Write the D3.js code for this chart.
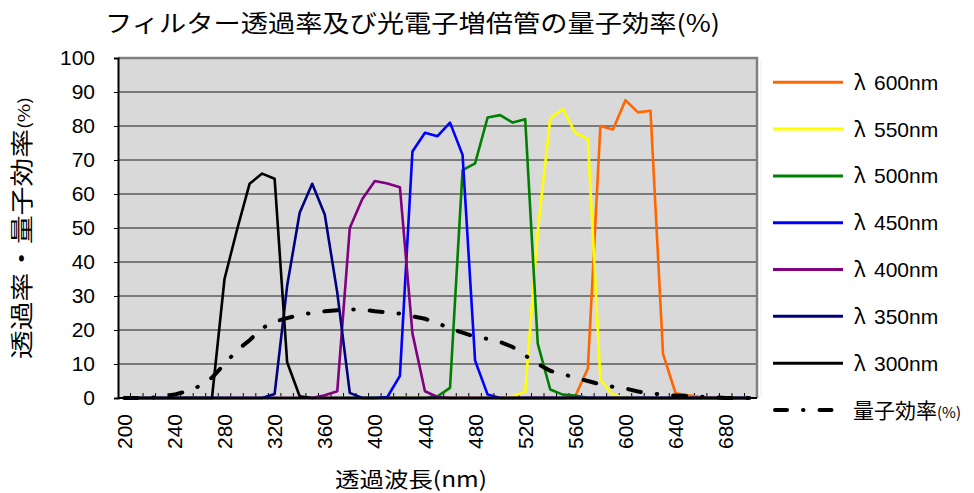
<!DOCTYPE html>
<html>
<head>
<meta charset="utf-8">
<script src="https://cdn.jsdelivr.net/npm/d3@7"></script>
<style>
  body { margin: 0; background: #fff; }
  svg text { font-family: "Liberation Sans", Arial, sans-serif; fill: #000; }
  .jp { font-family: "Noto Sans CJK JP", "Noto Sans", sans-serif; }
</style>
</head>
<body>
<svg id="chart" width="974" height="493"></svg>
<script>
// wavelength categories (nm)
const categories = [200, 210, 220, 230, 240, 250, 260, 270, 280, 290,
  300, 310, 320, 330, 340, 350, 360, 370, 380, 390,
  400, 410, 420, 430, 440, 450, 460, 470, 480, 490,
  500, 510, 520, 530, 540, 550, 560, 570, 580, 590,
  600, 610, 620, 630, 640, 650, 660, 670, 680, 690, 700];
const xLabels = [200, 240, 280, 320, 360, 400, 440, 480, 520, 560, 600, 640, 680];
const yTicks = [0, 10, 20, 30, 40, 50, 60, 70, 80, 90, 100];

// filter transmittance (%)
const lambda600 = [0, 0, 0, 0, 0, 0, 0, 0, 0, 0,
  0, 0, 0, 0, 0, 0, 0, 0, 0, 0,
  0, 0, 0, 0, 0, 0, 0, 0, 0, 0,
  0, 0, 0, 0, 0, 0, 0.6, 8.7, 80, 79,
  87.6, 84, 84.5, 13, 1.4, 0.8, 0.3, 0, 0, 0, 0];
const lambda550 = [0, 0, 0, 0, 0, 0, 0, 0, 0, 0,
  0, 0, 0, 0, 0, 0, 0, 0, 0, 0,
  0, 0, 0, 0, 0, 0, 0, 0, 0, 0,
  0, 0.5, 1.8, 49, 82.3, 85, 78, 76.2, 5.5, 0.8,
  0.3, 0, 0, 0, 0, 0, 0, 0, 0, 0, 0];
const lambda500 = [0, 0, 0, 0, 0, 0, 0, 0, 0, 0,
  0, 0, 0, 0, 0, 0, 0, 0, 0, 0,
  0, 0, 0, 0, 0, 0.5, 3, 67, 69, 82.5,
  83.2, 81, 82, 16, 2.5, 1, 0.7, 0, 0, 0,
  0, 0, 0, 0, 0, 0, 0, 0, 0, 0, 0];
const lambda450 = [0, 0, 0, 0, 0, 0, 0, 0, 0, 0,
  0, 0, 0, 0, 0, 0, 0, 0, 0, 0,
  0, 0.3, 6.5, 72.5, 78, 77, 81, 71.5, 11, 1,
  0, 0, 0, 0, 0, 0, 0, 0, 0, 0,
  0, 0, 0, 0, 0, 0, 0, 0, 0, 0, 0];
const lambda400 = [0, 0, 0, 0, 0, 0, 0, 0, 0, 0,
  0, 0, 0, 0, 0, 0, 0.8, 2, 50, 58.5,
  63.8, 63.1, 62, 19, 2, 0.3, 0, 0, 0, 0,
  0, 0, 0, 0, 0, 0, 0, 0, 0, 0,
  0, 0, 0, 0, 0, 0, 0, 0, 0, 0, 0];
const lambda350 = [0, 0, 0, 0, 0, 0, 0, 0, 0, 0,
  0, 0, 1.2, 33, 54.5, 63, 54, 31, 1.5, 0,
  0, 0, 0, 0, 0, 0, 0, 0, 0, 0,
  0, 0, 0, 0, 0, 0, 0, 0, 0, 0,
  0, 0, 0, 0, 0, 0, 0, 0, 0, 0, 0];
const lambda300 = [0, 0, 0, 0, 0, 0, 0, 0, 35, 49.5,
  63, 66, 64.5, 10.5, 0.5, 0, 0, 0, 0, 0,
  0, 0, 0, 0, 0, 0, 0, 0, 0, 0,
  0, 0, 0, 0, 0, 0, 0, 0, 0, 0,
  0, 0, 0, 0, 0, 0, 0, 0, 0, 0, 0];
// photomultiplier quantum efficiency (%)
const quantumEff = [0, 0, 0, 0.5, 1, 2, 3.5, 6, 10, 14,
  17, 20.5, 22.5, 23.5, 24.5, 25, 25.5, 25.8, 26, 26,
  25.5, 25.2, 24.8, 24, 23.3, 22, 20.5, 19.2, 18, 17.4,
  16.5, 15, 12.5, 10, 8, 7, 6, 5, 4, 3.3,
  2.8, 1.9, 1.4, 1, 0.7, 0.6, 0.4, 0.2, 0, 0, 0];

const seriesNames = ['600nm', '550nm', '500nm', '450nm', '400nm', '350nm', '300nm'];
const seriesValues = [lambda600, lambda550, lambda500, lambda450, lambda400, lambda350, lambda300];
const seriesColors = ['#ff6600', '#ffff00', '#008000', '#0000ff', '#800080', '#000080', '#000000'];

const svg = d3.select('#chart');
const plotL = 118, plotR = 757, plotT = 58, plotB = 398;

const x = d3.scaleBand().domain(categories).range([plotL, plotR]).paddingInner(0).paddingOuter(0);
const y = d3.scaleLinear().domain([0, 100]).range([plotB, plotT]);
const cx = c => x(c) + x.bandwidth() / 2;

// plot area
svg.append('rect')
  .attr('x', plotL).attr('y', plotT)
  .attr('width', plotR - plotL).attr('height', plotB - plotT)
  .attr('fill', '#d9d9d9');

// grid
svg.append('g')
  .selectAll('line')
  .data(yTicks.filter(v => v > 0 && v < 100))
  .enter().append('line')
  .attr('x1', plotL).attr('x2', plotR)
  .attr('y1', d => y(d)).attr('y2', d => y(d))
  .attr('stroke', '#5a5a5a').attr('stroke-width', 1.4);

// top / right frame
svg.append('path')
  .attr('d', `M${plotL},${plotT}H${plotR}V${plotB}`)
  .attr('fill', 'none').attr('stroke', '#808080').attr('stroke-width', 2.5);

// y axis
const yAxis = d3.axisLeft(y).tickValues(yTicks).tickSize(4).tickPadding(19);
const gy = svg.append('g').attr('transform', `translate(${plotL},0)`).call(yAxis);
gy.attr('font-family', null);
gy.select('.domain').attr('stroke', '#000').attr('stroke-width', 2);
gy.selectAll('.tick line').attr('stroke', '#000');
gy.selectAll('text').style('font-size', '21px');

// x axis
const xAxis = d3.axisBottom(x).tickSize(0)
  .tickFormat(d => xLabels.includes(d) ? d : '');
const gx = svg.append('g').attr('transform', `translate(0,${plotB})`).call(xAxis);
gx.attr('font-family', null);
gx.select('.domain').remove();
gx.selectAll('text')
  .attr('transform', 'rotate(-90)')
  .attr('x', -16).attr('y', 0).attr('dy', '0.36em')
  .style('text-anchor', 'end')
  .style('font-size', '21px');

// category boundary ticks (inside)
svg.append('g')
  .selectAll('line')
  .data(categories.slice(1))
  .enter().append('line')
  .attr('x1', d => x(d)).attr('x2', d => x(d))
  .attr('y1', plotB).attr('y2', plotB - 5)
  .attr('stroke', '#000').attr('stroke-width', 1);

const line = d3.line().x((d, i) => cx(categories[i])).y(d => y(d));

// series
seriesValues.forEach((vals, k) => {
  svg.append('path')
    .datum(vals)
    .attr('d', line)
    .attr('fill', 'none')
    .attr('stroke', seriesColors[k])
    .attr('stroke-width', 2.6)
    .attr('stroke-linejoin', 'round');
});

// x axis line
svg.append('line')
  .attr('x1', plotL).attr('x2', plotR)
  .attr('y1', plotB).attr('y2', plotB)
  .attr('stroke', '#000').attr('stroke-width', 2);

// quantum efficiency dash-dot
svg.append('path')
  .datum(quantumEff)
  .attr('d', line)
  .attr('fill', 'none')
  .attr('stroke', '#000')
  .attr('stroke-width', 4)
  .attr('stroke-linecap', 'round')
  .attr('stroke-dasharray', '13 16 0.5 16');

// legend
const legY = d3.scalePoint().domain(d3.range(8)).range([82.3, 410]);
svg.append('line')
  .attr('x1', 761).attr('x2', 761).attr('y1', 60).attr('y2', 397)
  .attr('stroke', '#ececec').attr('stroke-width', 1);

const leg = svg.append('g');
seriesNames.forEach((name, k) => {
  leg.append('line')
    .attr('x1', 773).attr('x2', 843)
    .attr('y1', legY(k)).attr('y2', legY(k))
    .attr('stroke', seriesColors[k]).attr('stroke-width', 3);
  const t = leg.append('text')
    .attr('x', 854).attr('y', legY(k)).attr('dy', '0.36em')
    .style('font-size', '21px');
  t.append('tspan').attr('class', 'jp').text('λ');
  t.append('tspan').attr('x', 874).text(name);
});
leg.append('line')
  .attr('x1', 775).attr('x2', 843)
  .attr('y1', legY(7)).attr('y2', legY(7))
  .attr('stroke', '#000').attr('stroke-width', 4)
  .attr('stroke-linecap', 'round')
  .attr('stroke-dasharray', '12 16 0.5 16');
const qeText = leg.append('text')
  .attr('class', 'jp')
  .attr('x', 853).attr('y', legY(7)).attr('dy', '0.36em')
  .style('font-size', '21px');
qeText.append('tspan').text('量子効率');
qeText.append('tspan').style('font-size', '15px').text('(%)');

// titles
svg.append('text')
  .attr('class', 'jp')
  .attr('x', 105).attr('y', 32)
  .attr('textLength', 615).attr('lengthAdjust', 'spacingAndGlyphs')
  .style('font-size', '24px')
  .text('フィルター透過率及び光電子増倍管の量子効率(%)');

const yTitle = svg.append('text')
  .attr('class', 'jp')
  .attr('transform', 'translate(30,228) rotate(-90)')
  .attr('text-anchor', 'middle')
  .attr('textLength', 262).attr('lengthAdjust', 'spacingAndGlyphs')
  .style('font-size', '23px');
yTitle.append('tspan').text('透過率・量子効率');
yTitle.append('tspan').style('font-size', '16px').text('(%)');

svg.append('text')
  .attr('class', 'jp')
  .attr('x', 411).attr('y', 487)
  .attr('text-anchor', 'middle')
  .attr('textLength', 152).attr('lengthAdjust', 'spacingAndGlyphs')
  .style('font-size', '21px')
  .text('透過波長(nm)');
</script>
</body>
</html>
